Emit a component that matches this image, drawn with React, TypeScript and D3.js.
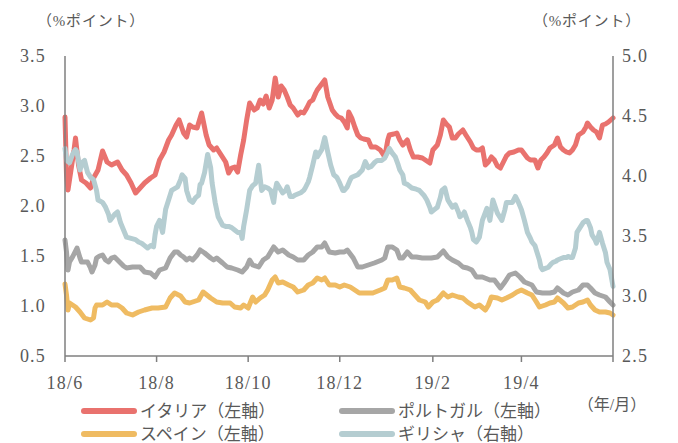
import React from "react";
import * as d3 from "d3";

// x = days since 2018-06-01, y = spread (%pt)
const italy: [number, number][] = [
  [0,2.89],[1,2.31],[2,2.16],[4,2.36],[6,2.56],[7,2.68],[9,2.41],[11,2.26],[14,2.23],[17,2.18],
  [19,2.28],[22,2.36],[25,2.55],[28,2.44],[31,2.41],[35,2.44],[38,2.36],[41,2.31],[44,2.23],[47,2.13],
  [50,2.18],[53,2.23],[57,2.28],[60,2.31],[63,2.46],[66,2.54],[69,2.66],[71,2.71],[74,2.81],[76,2.86],
  [79,2.73],[81,2.69],[83,2.81],[85,2.79],[88,2.78],[91,2.93],[94,2.71],[96,2.61],[99,2.56],[101,2.58],
  [104,2.51],[107,2.44],[109,2.33],[111,2.38],[113,2.39],[115,2.34],[117,2.51],[119,2.66],[121,2.86],[123,3.03],
  [126,2.96],[128,2.98],[130,3.06],[132,3.02],[134,3.10],[136,2.98],[138,3.06],[140,3.28],[142,3.09],[144,3.20],
  [146,3.16],[148,3.09],[150,3.01],[152,2.98],[155,2.91],[157,2.94],[159,2.93],[161,2.98],[163,3.04],[165,3.06],
  [167,3.13],[168,3.16],[170,3.20],[173,3.26],[175,3.09],[178,2.96],[180,2.92],[182,2.89],[184,2.88],[186,2.84],
  [188,2.78],[189,2.94],[191,2.88],[193,2.79],[195,2.71],[197,2.68],[199,2.67],[202,2.66],[204,2.59],[207,2.59],
  [210,2.56],[213,2.49],[215,2.66],[216,2.71],[219,2.72],[221,2.73],[223,2.66],[225,2.61],[228,2.66],[230,2.56],
  [232,2.49],[235,2.49],[238,2.48],[240,2.46],[243,2.43],[245,2.56],[248,2.61],[250,2.71],[252,2.86],[254,2.82],
  [256,2.79],[258,2.68],[260,2.68],[262,2.72],[265,2.76],[267,2.71],[270,2.64],[272,2.58],[274,2.56],[276,2.56],
  [278,2.58],[280,2.41],[282,2.44],[284,2.49],[286,2.46],[288,2.40],[290,2.38],[292,2.44],[294,2.50],[296,2.53],
  [299,2.54],[302,2.56],[304,2.56],[306,2.52],[308,2.48],[310,2.46],[313,2.46],[315,2.38],[317,2.46],[319,2.49],
  [321,2.53],[323,2.58],[326,2.61],[328,2.68],[330,2.59],[332,2.56],[334,2.54],[336,2.53],[338,2.56],[340,2.61],
  [342,2.71],[345,2.74],[347,2.79],[348,2.83],[350,2.79],[352,2.76],[354,2.74],[356,2.68],[358,2.81],[360,2.82],
  [362,2.84],[365,2.88],
];

const portugal: [number, number][] = [
  [0,1.66],[1,1.54],[2,1.36],[3,1.44],[5,1.49],[8,1.58],[10,1.48],[11,1.44],[15,1.44],[17,1.38],
  [18,1.34],[20,1.41],[21,1.48],[23,1.50],[25,1.51],[27,1.46],[29,1.44],[31,1.48],[33,1.49],[37,1.43],
  [39,1.40],[41,1.38],[45,1.39],[50,1.39],[53,1.34],[57,1.33],[60,1.29],[63,1.36],[67,1.38],[70,1.48],
  [73,1.54],[75,1.54],[77,1.51],[79,1.49],[81,1.46],[83,1.48],[85,1.46],[88,1.51],[90,1.56],[93,1.53],
  [97,1.48],[99,1.46],[101,1.48],[105,1.43],[108,1.39],[111,1.38],[115,1.36],[118,1.34],[121,1.39],[123,1.46],
  [125,1.41],[129,1.39],[132,1.46],[135,1.49],[139,1.59],[142,1.54],[145,1.56],[149,1.51],[152,1.49],[155,1.46],
  [159,1.46],[162,1.51],[165,1.54],[168,1.59],[171,1.59],[173,1.63],[176,1.54],[180,1.53],[183,1.54],[186,1.54],
  [188,1.56],[192,1.48],[195,1.39],[198,1.39],[202,1.41],[206,1.43],[211,1.46],[213,1.48],[215,1.59],[218,1.59],
  [221,1.56],[223,1.48],[225,1.48],[228,1.54],[231,1.49],[234,1.49],[238,1.48],[241,1.48],[244,1.48],[248,1.49],
  [252,1.55],[255,1.49],[258,1.46],[262,1.43],[265,1.39],[268,1.38],[271,1.36],[274,1.29],[278,1.29],[283,1.26],
  [286,1.26],[290,1.18],[293,1.24],[296,1.31],[300,1.33],[303,1.29],[306,1.24],[311,1.21],[314,1.14],[318,1.13],
  [323,1.13],[326,1.14],[328,1.18],[332,1.13],[335,1.11],[338,1.14],[342,1.16],[345,1.21],[348,1.21],[350,1.18],
  [353,1.13],[356,1.11],[360,1.09],[363,1.04],[365,1.01],
];

const spain: [number, number][] = [
  [0,1.22],[1,1.11],[2,0.96],[3,1.03],[5,1.01],[7,0.99],[10,0.94],[13,0.88],[17,0.86],[19,0.88],
  [20,0.98],[21,1.01],[25,1.01],[28,1.04],[31,1.01],[35,1.01],[38,0.98],[41,0.93],[45,0.91],[49,0.94],
  [53,0.96],[58,0.98],[62,0.98],[67,0.99],[70,1.08],[73,1.13],[77,1.10],[80,1.04],[83,1.03],[85,1.04],
  [89,1.06],[92,1.14],[97,1.08],[101,1.04],[105,1.03],[110,1.03],[113,0.99],[117,0.98],[119,1.01],[122,0.98],
  [125,1.09],[127,1.04],[130,1.08],[133,1.11],[135,1.16],[138,1.26],[140,1.29],[142,1.23],[145,1.24],[149,1.21],
  [152,1.19],[155,1.14],[159,1.16],[162,1.21],[165,1.23],[168,1.28],[171,1.26],[173,1.28],[176,1.21],[180,1.21],
  [183,1.19],[186,1.21],[190,1.19],[193,1.16],[196,1.13],[201,1.13],[205,1.13],[210,1.16],[213,1.18],[215,1.26],
  [218,1.26],[221,1.28],[223,1.19],[226,1.18],[230,1.16],[233,1.11],[236,1.06],[240,1.04],[242,0.99],[245,1.04],
  [248,1.06],[252,1.13],[255,1.09],[258,1.11],[262,1.09],[265,1.08],[268,1.04],[273,0.99],[276,1.01],[280,0.96],
  [282,1.01],[284,1.09],[288,1.08],[291,1.06],[294,1.08],[298,1.11],[301,1.14],[304,1.16],[308,1.13],[311,1.11],
  [314,1.04],[316,0.99],[320,1.01],[323,1.03],[326,1.04],[328,1.08],[332,1.03],[335,0.98],[338,0.99],[342,1.03],
  [345,1.04],[348,1.06],[350,1.01],[353,0.96],[356,0.94],[360,0.94],[363,0.93],[365,0.91],
];

const greece: [number, number][] = [
  [0,4.23],[1,4.13],[3,4.11],[5,4.18],[7,4.22],[8,4.20],[10,4.05],[12,4.12],[13,4.13],[15,4.03],
  [17,3.99],[19,3.97],[21,3.88],[22,3.80],[25,3.78],[27,3.74],[29,3.68],[30,3.63],[33,3.68],[35,3.70],
  [37,3.61],[39,3.55],[41,3.49],[44,3.48],[47,3.47],[49,3.45],[51,3.44],[53,3.42],[55,3.40],[57,3.42],
  [59,3.41],[60,3.51],[61,3.58],[63,3.63],[65,3.53],[67,3.72],[69,3.80],[71,3.88],[75,3.91],[77,3.97],
  [78,4.01],[80,3.98],[81,3.88],[83,3.80],[85,3.78],[87,3.82],[89,3.84],[90,3.93],[91,3.94],[93,4.03],
  [95,4.18],[97,4.07],[98,3.94],[100,3.78],[102,3.66],[105,3.59],[107,3.58],[109,3.58],[111,3.57],[113,3.55],
  [115,3.53],[117,3.53],[118,3.48],[119,3.58],[120,3.65],[121,3.72],[123,3.88],[125,3.92],[127,3.94],[129,4.09],
  [130,3.98],[131,3.88],[133,3.91],[135,3.90],[137,3.88],[139,3.78],[140,3.88],[141,3.94],[143,3.90],[145,3.86],
  [147,3.88],[148,3.91],[150,3.83],[152,3.83],[153,3.84],[155,3.85],[157,3.86],[159,3.88],[160,3.90],[162,3.95],
  [163,3.99],[165,4.09],[167,4.20],[168,4.16],[171,4.22],[173,4.32],[175,4.20],[177,4.09],[179,4.01],[181,3.99],
  [183,3.94],[185,3.88],[186,3.88],[188,3.91],[190,3.97],[191,3.99],[193,4.00],[195,4.01],[198,4.05],[200,4.12],
  [202,4.07],[204,4.08],[206,4.11],[208,4.13],[211,4.13],[213,4.15],[215,4.20],[216,4.23],[218,4.19],[220,4.16],
  [222,4.09],[223,4.05],[225,4.01],[226,3.94],[228,3.93],[231,3.90],[234,3.89],[236,3.88],[239,3.84],[241,3.80],
  [243,3.74],[244,3.70],[246,3.72],[248,3.74],[250,3.82],[251,3.88],[253,3.90],[255,3.80],[256,3.78],[258,3.74],
  [260,3.76],[262,3.70],[263,3.66],[265,3.68],[266,3.70],[268,3.63],[270,3.57],[271,3.53],[272,3.47],[274,3.45],
  [275,3.47],[276,3.49],[278,3.63],[281,3.73],[283,3.63],[285,3.80],[288,3.69],[290,3.65],[291,3.63],[293,3.72],
  [294,3.78],[296,3.78],[298,3.78],[300,3.83],[302,3.78],[304,3.72],[306,3.63],[308,3.53],[310,3.48],[311,3.45],
  [313,3.42],[314,3.38],[316,3.30],[317,3.24],[318,3.22],[320,3.23],[322,3.24],[324,3.27],[325,3.28],[327,3.29],
  [328,3.30],[330,3.31],[332,3.32],[334,3.32],[335,3.33],[337,3.32],[338,3.32],[340,3.40],[341,3.53],[343,3.57],
  [345,3.61],[347,3.63],[348,3.63],[350,3.57],[351,3.51],[353,3.47],[354,3.44],[356,3.53],[358,3.44],[360,3.36],
  [361,3.28],[363,3.22],[365,3.08],
];

const leftTicks = [0.5, 1.0, 1.5, 2.0, 2.5, 3.0, 3.5];
const rightTicks = [2.5, 3.0, 3.5, 4.0, 4.5, 5.0];
const xTickLabels = ["18/6", "18/8", "18/10", "18/12", "19/2", "19/4", ""];

const seriesNames = ["イタリア（左軸）", "ポルトガル（左軸）", "スペイン（左軸）", "ギリシャ（右軸）"];
const colors = ["#E9726E", "#A6A6A6", "#EFBB62", "#B5CDD1"];

const W = 678, H = 443;
const L = 65, R = 613, T = 56, B = 356;
const TEXT = "#595959";
const FONT = "'Liberation Serif', 'DejaVu Serif', 'Noto Sans CJK JP', serif";
const start = new Date(2018, 5, 1);
const end = new Date(2019, 5, 1);

export default function App() {
  const x = d3.scaleTime().domain([start, end]).range([L, R]);
  const yL = d3.scaleLinear().domain([0.5, 3.5]).range([B, T]);
  const yR = d3.scaleLinear().domain([2.5, 5.0]).range([B, T]);
  const xTicks = d3.timeMonth
    .range(start, d3.timeDay.offset(end, 1))
    .filter((_, i) => i % 2 === 0);

  const lineL = d3.line<[number, number]>()
    .x((d) => x(d3.timeDay.offset(start, d[0])))
    .y((d) => yL(d[1]))
    .curve(d3.curveLinear);
  const lineR = d3.line<[number, number]>()
    .x((d) => x(d3.timeDay.offset(start, d[0])))
    .y((d) => yR(d[1]))
    .curve(d3.curveLinear);

  const data = [
    { d: italy, line: lineL, c: colors[0] },
    { d: portugal, line: lineL, c: colors[1] },
    { d: spain, line: lineL, c: colors[2] },
    { d: greece, line: lineR, c: colors[3] },
  ];

  const legend = [
    { i: 0, x: 84, y: 411 },
    { i: 1, x: 342, y: 411 },
    { i: 2, x: 84, y: 434 },
    { i: 3, x: 342, y: 434 },
  ];

  const numStyle = { letterSpacing: "1.2px" };

  return (
    <svg width={W} height={H} style={{ position: "absolute", left: 0, top: 0, background: "#fff" }} fontFamily={FONT}>
      <rect width={W} height={H} fill="#fff" />
      <text x={37} y={26} fill={TEXT} fontSize={15} style={{ letterSpacing: "0.8px" }}>（%ポイント）</text>
      <text x={641} y={26} fill={TEXT} fontSize={15} textAnchor="end" style={{ letterSpacing: "0.8px" }}>（%ポイント）</text>

      {data.map((s, i) => (
        <path key={i} d={s.line(s.d) || ""} fill="none" stroke={s.c} strokeWidth={5}
          strokeLinejoin="round" strokeLinecap="round" />
      ))}

      <line x1={L} x2={L} y1={T} y2={B} stroke="#7f7f7f" strokeWidth={1.5} />
      <line x1={R} x2={R} y1={T} y2={B} stroke="#7f7f7f" strokeWidth={1.5} />
      <line x1={L} x2={R} y1={B} y2={B} stroke="#7f7f7f" strokeWidth={1.5} />

      {leftTicks.map((v) => (
        <text key={"l" + v} x={46} y={yL(v) + 6} fill={TEXT} fontSize={18} textAnchor="end" style={numStyle}>{v.toFixed(1)}</text>
      ))}
      {rightTicks.map((v) => (
        <text key={"r" + v} x={622} y={yR(v) + 6} fill={TEXT} fontSize={18} style={numStyle}>{v.toFixed(1)}</text>
      ))}
      {xTicks.map((t, i) => (
        <g key={"x" + i}>
          <line x1={x(t)} x2={x(t)} y1={B} y2={B + 6} stroke="#7f7f7f" strokeWidth={1.5} />
          <text x={x(t)} y={B + 33} fill={TEXT} fontSize={18} textAnchor="middle" style={numStyle}>{xTickLabels[i]}</text>
        </g>
      ))}
      <text x={612} y={410} fill={TEXT} fontSize={16} textAnchor="middle">（年/月）</text>

      {legend.map((l) => (
        <g key={"lg" + l.i}>
          <line x1={l.x} x2={l.x + 50} y1={l.y} y2={l.y} stroke={colors[l.i]} strokeWidth={6} strokeLinecap="round" />
          <text x={l.x + 56} y={l.y + 6} fill={TEXT} fontSize={17}>{seriesNames[l.i]}</text>
        </g>
      ))}
    </svg>
  );
}
